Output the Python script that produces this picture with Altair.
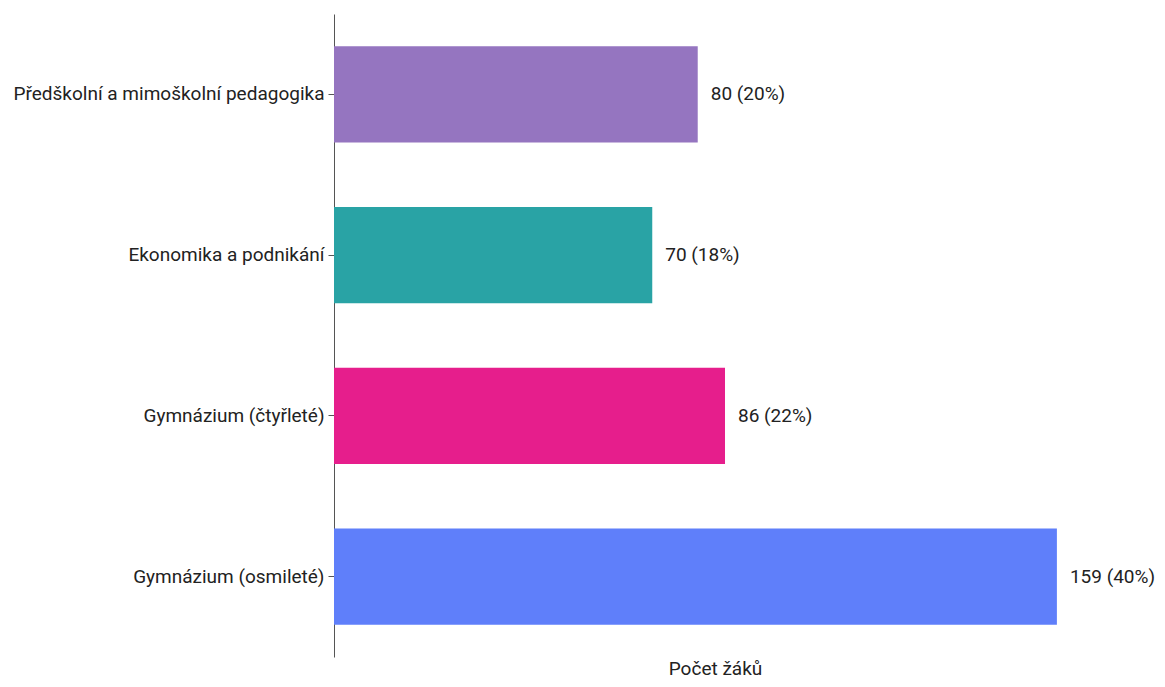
import altair as alt
import pandas as pd

categories = ["Předškolní a mimoškolní pedagogika", "Ekonomika a podnikání",
              "Gymnázium (čtyřleté)", "Gymnázium (osmileté)"]
values = [80, 70, 86, 159]
labels = ["80 (20%)", "70 (18%)", "86 (22%)", "159 (40%)"]
colors = ["#9575C0", "#29A3A5", "#E61E8C", "#5F7FFA"]

df = pd.DataFrame({"kat": categories, "n": values, "lab": labels, "col": colors})

FONT = "Roboto"

base = alt.Chart(df).encode(
    y=alt.Y("kat:N", sort=categories, title=None,
            scale=alt.Scale(paddingInner=0.4, paddingOuter=0.2),
            axis=alt.Axis(labelFont=FONT, labelFontSize=19, labelColor="#222222",
                          domainColor="#555555", tickColor="#555555", tickSize=6,
                          labelPadding=4, labelLimit=400)),
    x=alt.X("n:Q", title="Počet žáků",
            scale=alt.Scale(domain=[0, 167.6], nice=False, zero=True),
            axis=alt.Axis(labels=False, ticks=False, domain=False, grid=False,
                          titleFont=FONT, titleFontSize=19, titleFontWeight="normal",
                          titleColor="#222222", titlePadding=2)),
)

bars = base.mark_bar().encode(color=alt.Color("col:N", scale=None, legend=None))
text = base.mark_text(align="left", dx=13, font=FONT, fontSize=19, color="#222222").encode(
    text="lab:N")

chart = (bars + text).properties(
    width=762, height=643,
    autosize=alt.AutoSizeParams(type="none"),
    padding={"left": 326, "top": 6, "right": 61, "bottom": 22},
).configure_view(stroke=None)

chart.save("out.html", embed_options={"renderer": "svg", "actions": False})
